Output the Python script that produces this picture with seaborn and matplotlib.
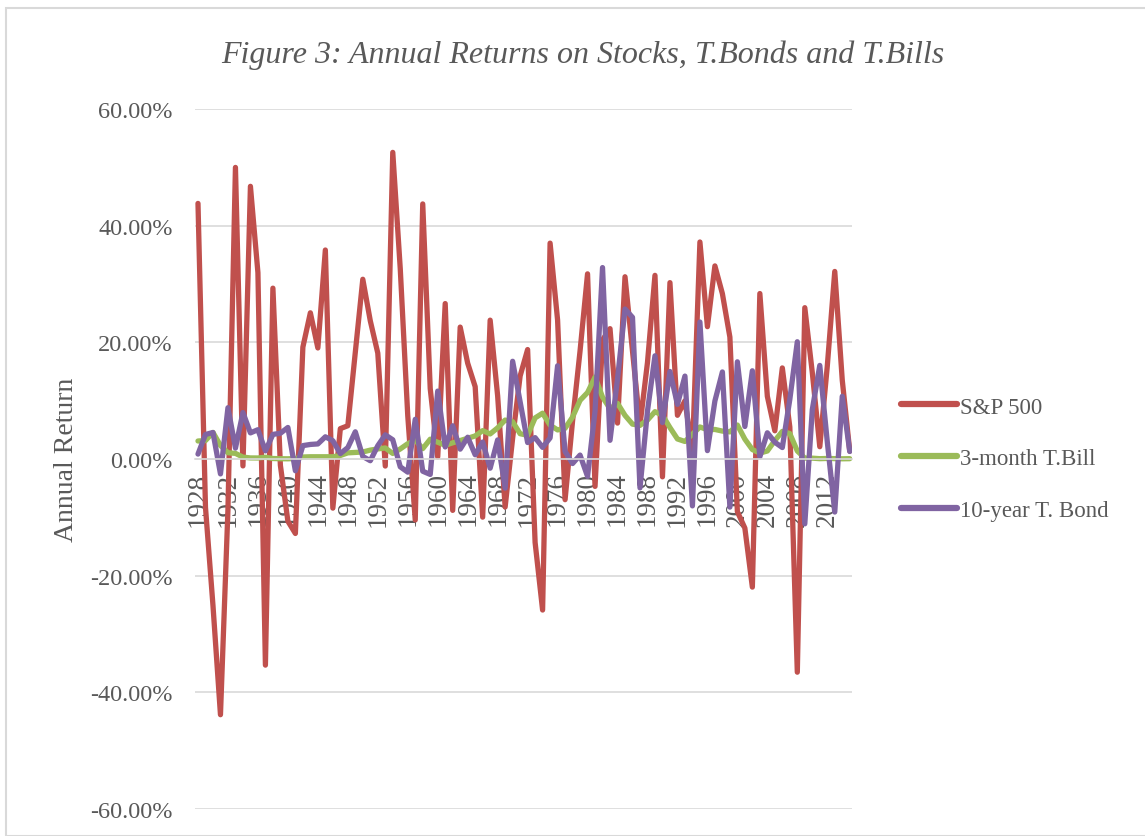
import numpy as np
import pandas as pd
import seaborn as sns
import matplotlib.pyplot as plt
from matplotlib.patches import Rectangle
from matplotlib.ticker import FuncFormatter

years = list(range(1928, 2016))

sp500 = [43.81, -8.30, -25.12, -43.84, -8.64, 49.98, -1.19, 46.74, 31.94, -35.34,
         29.28, -1.10, -10.67, -12.77, 19.17, 25.06, 19.03, 35.82, -8.43, 5.20,
         5.70, 18.30, 30.81, 23.68, 18.15, -1.21, 52.56, 32.60, 7.44, -10.46,
         43.72, 12.06, 0.34, 26.64, -8.81, 22.61, 16.42, 12.40, -9.97, 23.80,
         10.81, -8.24, 3.56, 14.22, 18.76, -14.31, -25.90, 37.00, 23.83, -6.98,
         6.51, 18.52, 31.74, -4.70, 20.42, 22.34, 6.15, 31.24, 18.49, 5.81,
         16.54, 31.48, -3.06, 30.23, 7.49, 9.97, 1.33, 37.20, 22.68, 33.10,
         28.34, 20.89, -9.03, -11.85, -21.97, 28.36, 10.74, 4.83, 15.61, 5.48,
         -36.55, 25.94, 14.82, 2.10, 15.89, 32.15, 13.52, 1.36]

tbill = [3.08, 3.16, 4.55, 2.31, 1.07, 0.96, 0.32, 0.18, 0.17, 0.30,
         0.08, 0.04, 0.03, 0.08, 0.34, 0.38, 0.38, 0.38, 0.38, 0.60,
         1.05, 1.12, 1.20, 1.52, 1.72, 1.89, 0.94, 1.72, 2.62, 3.22,
         1.77, 3.39, 2.87, 2.35, 2.77, 3.16, 3.55, 3.95, 4.86, 4.29,
         5.34, 6.67, 6.39, 4.33, 4.06, 7.04, 7.85, 5.79, 4.98, 5.26,
         7.18, 10.05, 11.39, 14.04, 10.60, 8.62, 9.54, 7.47, 5.97, 5.78,
         6.67, 8.11, 7.50, 5.38, 3.43, 3.00, 4.25, 5.49, 5.01, 5.06,
         4.78, 4.64, 5.82, 3.40, 1.61, 1.01, 1.37, 3.15, 4.73, 4.36,
         1.37, 0.15, 0.14, 0.05, 0.09, 0.06, 0.03, 0.05]

tbond = [0.84, 4.20, 4.54, -2.56, 8.79, 1.86, 7.96, 4.47, 5.02, 1.38,
         4.21, 4.41, 5.40, -2.02, 2.29, 2.49, 2.58, 3.80, 3.13, 0.92,
         1.95, 4.66, 0.43, -0.30, 2.27, 4.14, 3.29, -1.34, -2.26, 6.80,
         -2.10, -2.65, 11.64, 2.06, 5.69, 1.68, 3.73, 0.72, 2.91, -1.58,
         3.27, -5.01, 16.75, 9.79, 2.82, 3.66, 1.99, 3.61, 15.98, 1.29,
         -0.78, 0.67, -2.99, 8.20, 32.81, 3.20, 13.73, 25.71, 24.28, -4.96,
         8.22, 17.69, 6.24, 15.00, 9.36, 14.21, -8.04, 23.48, 1.43, 9.94,
         14.92, -8.25, 16.66, 5.57, 15.12, 0.38, 4.49, 2.87, 1.96, 10.21,
         20.10, -11.12, 8.46, 16.04, 2.97, -9.10, 10.75, 1.28]

series_names = ["S&P 500", "3-month T.Bill", "10-year T. Bond"]
colors = ["#C0504D", "#9BBB59", "#8064A2"]

df = pd.DataFrame({"Year": years, "S&P 500": sp500,
                   "3-month T.Bill": tbill, "10-year T. Bond": tbond})
long_df = df.melt(id_vars="Year", var_name="Series", value_name="Return")
long_df["Return"] = long_df["Return"] / 100

sns.set_style("white")
plt.rcParams["font.family"] = ["Liberation Serif", "DejaVu Serif"]
text_color = "#595959"

fig = plt.figure(figsize=(11.45, 8.37), dpi=100)
ax = fig.add_axes([0.1703, 0.0323, 0.5738, 0.8363])
ax.set_axisbelow(True)

sns.lineplot(data=long_df, x="Year", y="Return", hue="Series",
             hue_order=series_names, palette=colors, linewidth=3.8,
             ax=ax, legend=True)

ax.set_xlim(1927.6, 2015.3)
ax.set_ylim(-0.6, 0.6)
ax.set_yticks(np.arange(-0.6, 0.61, 0.2))
ax.yaxis.set_major_formatter(FuncFormatter(lambda v, p: f"{v * 100:.2f}%"))
ax.set_xticks(range(1928, 2016, 4))
ax.grid(axis="y", color="#D9D9D9", linewidth=1.2)

for s in ["top", "right", "left"]:
    ax.spines[s].set_visible(False)
ax.spines["bottom"].set_position(("data", 0))
ax.spines["bottom"].set_color("#D9D9D9")
ax.spines["bottom"].set_linewidth(1.2)

ax.tick_params(axis="x", length=0, pad=9, labelsize=19.5, labelcolor=text_color,
               labelrotation=90)
ax.tick_params(axis="y", length=0, pad=16, labelsize=17.5, labelcolor=text_color)

ax.set_xlabel("")
ax.set_ylabel("Annual Return", fontsize=20, color=text_color, labelpad=8)

fig.text(0.509, 0.934, "Figure 3: Annual Returns on Stocks, T.Bonds and T.Bills",
         ha="center", va="center", fontsize=23, style="italic", color=text_color)

leg = ax.legend(loc="center left", bbox_to_anchor=(1.043, 0.5), frameon=False,
                fontsize=16.5, handlelength=2.45, handletextpad=0.12,
                labelspacing=1.35, labelcolor=text_color)
for line in leg.get_lines():
    line.set_linewidth(4.5)
    line.set_solid_capstyle("round")

fig.patches.append(Rectangle((6 / 1145, 0), 1.0, 1 - 9 / 837,
                             transform=fig.transFigure, fill=False,
                             edgecolor="#D9D9D9", linewidth=1.5))

fig.savefig("out.png", dpi=100)
